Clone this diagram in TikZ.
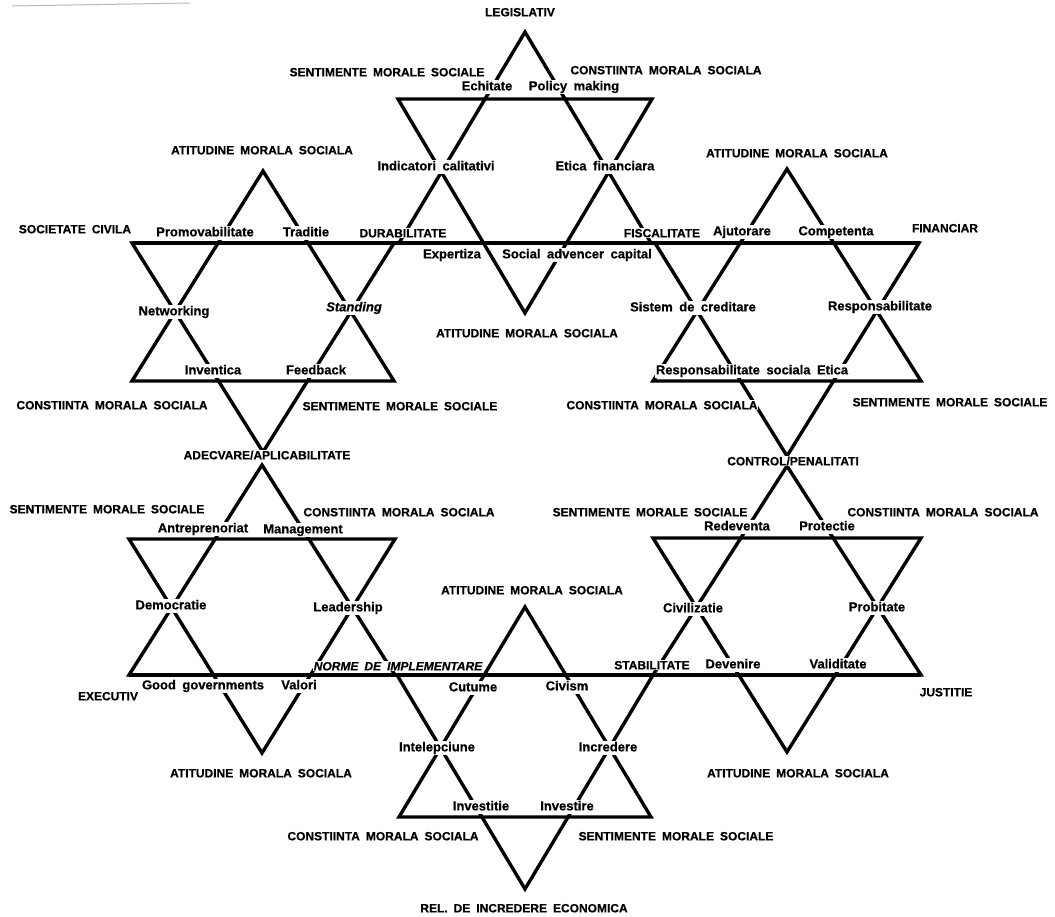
\documentclass[tikz,border=0pt]{standalone}
\usepackage{fontspec}
\setmainfont{Liberation Sans}[WordSpace=1.8, BoldFeatures={FakeBold=0.6}, BoldItalicFeatures={FakeBold=0.6}]
\newcommand\hexstar[7]{% cx, apex y, down-top y, base y, vertex y, up half-width, down half-width
  \draw[starline] (#1,#2) -- ({#1-#6},#4) -- ({#1+#6},#4) -- cycle;
  \draw[starline] ({#1-#7},#3) -- ({#1+#7},#3) -- (#1,#5) -- cycle;}
\tikzset{
  starline/.style={line width=3.4pt, line join=miter},
  caplab/.style={fill=white, inner sep=0.6pt, text height=8.7pt, text depth=0pt,
    font=\fontsize{12}{14}\selectfont\bfseries},
  lowlab/.style={fill=white, inner sep=0.6pt, text height=9.3pt, text depth=2.6pt,
    font=\fontsize{13}{15}\selectfont\bfseries}
}
\begin{document}
\begin{tikzpicture}[x=1pt,y=-1pt]
\useasboundingbox (0,0) rectangle (1055,917);
\fill[white] (0,0) rectangle (1055,917);
\draw[gray!55, line width=1pt] (12,6) -- (190,3);
% stars
\hexstar{525}{32}{99}{243}{313}{126}{127}
\hexstar{263}{171}{243}{381}{452}{131}{131}
\hexstar{787}{169}{243}{381}{456}{134}{132}
\hexstar{262}{465}{539}{675}{753}{133}{133}
\hexstar{787}{466}{538}{675}{752}{134}{134}
\hexstar{525}{607}{675}{817}{889}{126}{128}
\draw[starline] (132,243) -- (920,243);
\draw[starline] (129,675) -- (921,675);
% capital labels
\node[caplab] (legis) at (520,12) {LEGISLATIV};
\node[caplab] (sm1) at (387,72) {SENTIMENTE MORALE SOCIALE};
\node[caplab] (cm1) at (666,70) {CONSTIINTA MORALA SOCIALA};
\node[caplab] (am1) at (262,150) {ATITUDINE MORALA SOCIALA};
\node[caplab] (am2) at (797,153) {ATITUDINE MORALA SOCIALA};
\node[caplab] (socciv) at (75,229) {SOCIETATE CIVILA};
\node[caplab] (durab) at (403,233) {DURABILITATE};
\node[caplab] (fisc) at (662,233) {FISCALITATE};
\node[caplab] (finan) at (945,228) {FINANCIAR};
\node[caplab] (am3) at (527,333) {ATITUDINE MORALA SOCIALA};
\node[caplab] (cm2) at (112,405) {CONSTIINTA MORALA SOCIALA};
\node[caplab] (sm2) at (400,406) {SENTIMENTE MORALE SOCIALE};
\node[caplab] (cm3) at (662,405) {CONSTIINTA MORALA SOCIALA};
\node[caplab] (sm3) at (950,402) {SENTIMENTE MORALE SOCIALE};
\node[caplab] (adec) at (267,455) {ADECVARE/APLICABILITATE};
\node[caplab] (contr) at (793,461) {CONTROL/PENALITATI};
\node[caplab] (sm4) at (107,509) {SENTIMENTE MORALE SOCIALE};
\node[caplab] (cm4) at (399,512) {CONSTIINTA MORALA SOCIALA};
\node[caplab] (sm5) at (650,512) {SENTIMENTE MORALE SOCIALE};
\node[caplab] (cm5) at (943,512) {CONSTIINTA MORALA SOCIALA};
\node[caplab] (am4) at (532,590) {ATITUDINE MORALA SOCIALA};
\node[caplab, font=\fontsize{12}{14}\selectfont\bfseries\itshape] (norme) at (398,666) {NORME DE IMPLEMENTARE};
\node[caplab] (stab) at (652,665) {STABILITATE};
\node[caplab] (exec) at (108,696) {EXECUTIV};
\node[caplab] (just) at (946,692) {JUSTITIE};
\node[caplab] (am5) at (261,773) {ATITUDINE MORALA SOCIALA};
\node[caplab] (am6) at (798,773) {ATITUDINE MORALA SOCIALA};
\node[caplab] (cm6) at (383,836) {CONSTIINTA MORALA SOCIALA};
\node[caplab] (sm6) at (676,836) {SENTIMENTE MORALE SOCIALE};
\node[caplab] (rel) at (524,908) {REL. DE INCREDERE ECONOMICA};
% lowercase labels
\node[lowlab] (echit) at (487,87) {Echitate};
\node[lowlab] (policy) at (574,87) {Policy making};
\node[lowlab] (indic) at (436,167) {Indicatori calitativi};
\node[lowlab] (etica) at (605,167) {Etica financiara};
\node[lowlab] (promo) at (205,233) {Promovabilitate};
\node[lowlab] (tradi) at (306,233) {Traditie};
\node[lowlab] (expert) at (452,255) {Expertiza};
\node[lowlab] (social) at (577,255) {Social advencer capital};
\node[lowlab] (ajut) at (742,232) {Ajutorare};
\node[lowlab] (compet) at (836,232) {Competenta};
\node[lowlab] (netw) at (174,312) {Networking};
\node[lowlab, font=\fontsize{13}{15}\selectfont\bfseries\itshape] (stand) at (354,308) {Standing};
\node[lowlab] (sist) at (693,308) {Sistem de creditare};
\node[lowlab] (resp) at (880,307) {Responsabilitate};
\node[lowlab] (invent) at (213,371) {Inventica};
\node[lowlab] (feedb) at (316,371) {Feedback};
\node[lowlab] (respsoc) at (752,371) {Responsabilitate sociala Etica};
\node[lowlab] (antre) at (203,529) {Antreprenoriat};
\node[lowlab] (manag) at (303,530) {Management};
\node[lowlab] (redev) at (737,527) {Redeventa};
\node[lowlab] (prot) at (827,527) {Protectie};
\node[lowlab] (democ) at (171,606) {Democratie};
\node[lowlab] (leader) at (348,608) {Leadership};
\node[lowlab] (civil) at (693,609) {Civilizatie};
\node[lowlab] (probit) at (877,608) {Probitate};
\node[lowlab] (deven) at (733,665) {Devenire};
\node[lowlab] (valid) at (838,665) {Validitate};
\node[lowlab] (goodg) at (203,686) {Good governments};
\node[lowlab] (valori) at (299,686) {Valori};
\node[lowlab] (cutume) at (473,688) {Cutume};
\node[lowlab] (civism) at (567,687) {Civism};
\node[lowlab] (intel) at (437,748) {Intelepciune};
\node[lowlab] (incred) at (608,748) {Incredere};
\node[lowlab] (investi) at (481,807) {Investitie};
\node[lowlab] (investr) at (567,807) {Investire};
\end{tikzpicture}
\end{document}
